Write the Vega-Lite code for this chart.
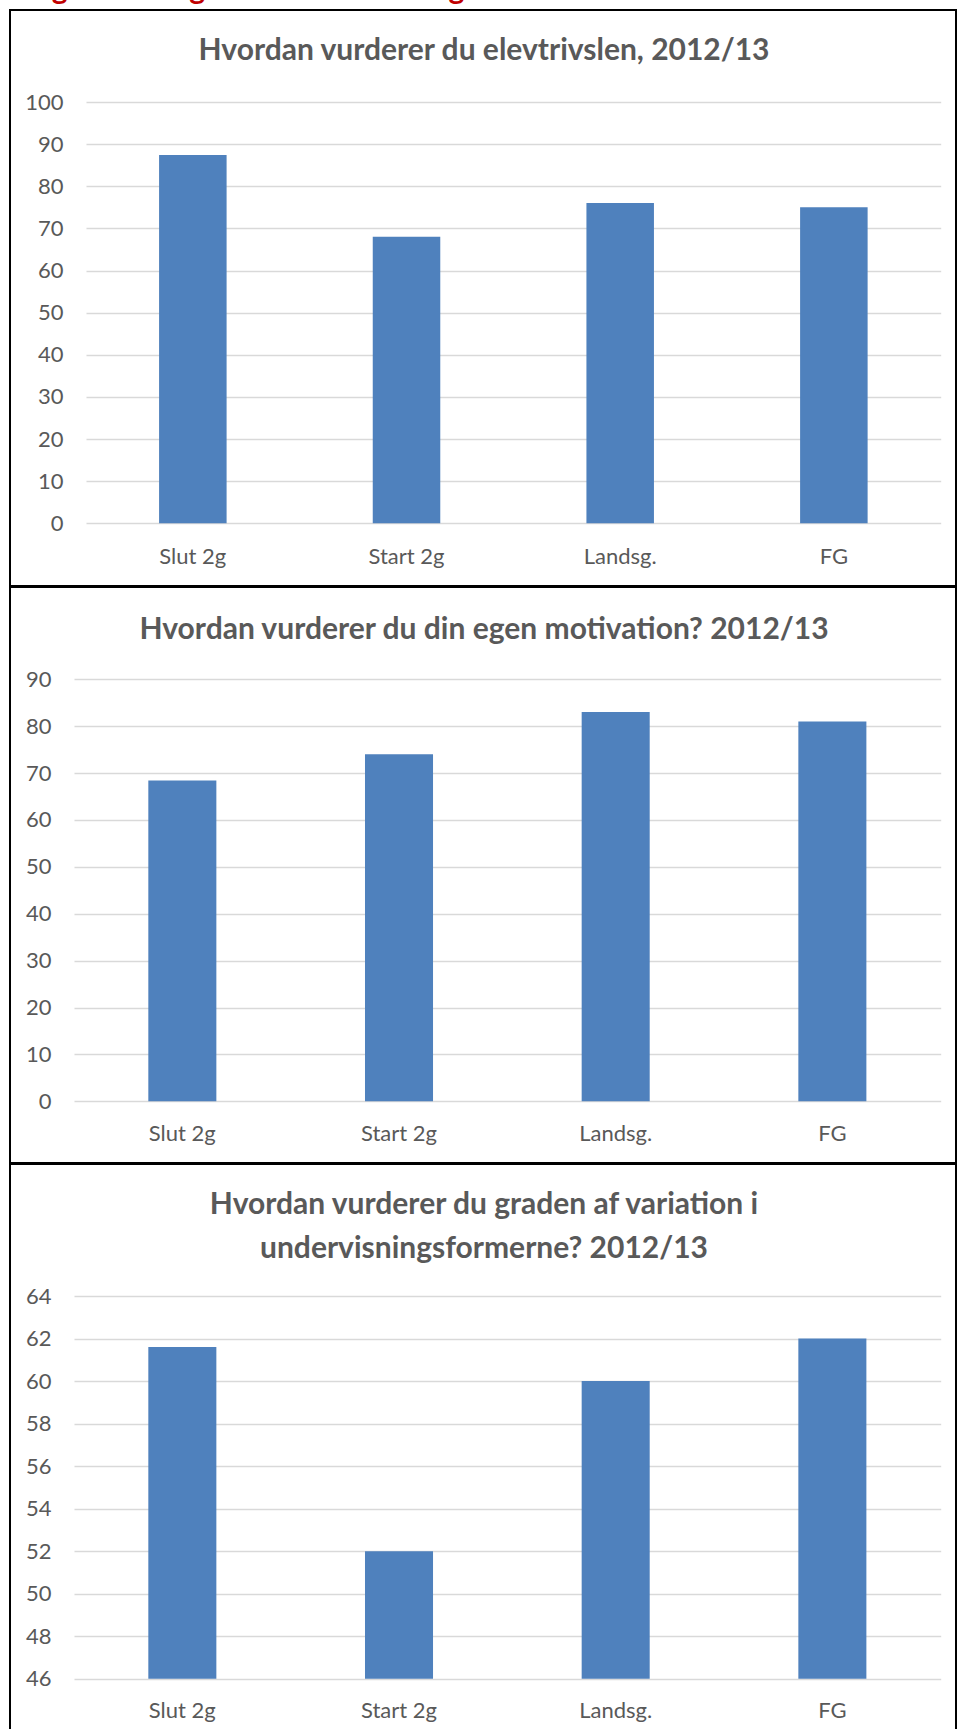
{
  "$schema": "https://vega.github.io/schema/vega-lite/v6.json",
  "padding": {"left": 2, "top": -25, "right": 0, "bottom": 0},
  "background": "white",
  "title": {"text": "Bilag 3: Uddrag af trivselsundersøgelse", "anchor": "start", "frame": "group", "font": "Lato", "fontSize": 30, "fontWeight": "bold", "color": "#c00000", "baseline": "alphabetic", "offset": -20, "dx": -8},
  "config": {
    "view": {"stroke": "black", "strokeWidth": 2, "fill": "white"},
    "concat": {"spacing": -2},
    "axis": {"labelFont": "Lato", "labelFontSize": 22, "labelColor": "#595959", "domain": false, "ticks": false, "tickSize": 0, "title": null, "gridColor": "#d9d9d9", "gridWidth": 1.5},
    "title": {"font": "Lato", "fontSize": 30, "fontWeight": "bold", "color": "#595959", "frame": "group", "anchor": "middle", "baseline": "alphabetic", "dx": 1}
  },
  "vconcat": [
    {
      "width": 946, "height": 576,
      "title": {"text": "Hvordan vurderer du elevtrivslen, 2012/13", "offset": -56},
      "data": {"values": [
        {"kategori": "Slut 2g", "vaerdi": 87.4},
        {"kategori": "Start 2g", "vaerdi": 68},
        {"kategori": "Landsg.", "vaerdi": 76},
        {"kategori": "FG", "vaerdi": 75}
      ]},
      "mark": {"type": "bar", "color": "#4f81bd"},
      "encoding": {
        "x": {"field": "kategori", "type": "nominal", "sort": null, "scale": {"range": [76, 930.7], "paddingInner": 0.684, "paddingOuter": 0.342}, "axis": {"labelAngle": 0, "offset": -30, "labelPadding": 0, "labelBaseline": "middle", "grid": false}},
        "y": {"field": "vaerdi", "type": "quantitative", "scale": {"domain": [0, 100], "range": [513.3, 92], "nice": false}, "axis": {"values": [0, 10, 20, 30, 40, 50, 60, 70, 80, 90, 100], "offset": -53, "labelPadding": 0, "grid": true}},
        "y2": {"datum": 0}
      }
    },
    {
      "width": 946, "height": 576,
      "title": {"text": "Hvordan vurderer du din egen motivation? 2012/13", "offset": -58},
      "data": {"values": [
        {"kategori": "Slut 2g", "vaerdi": 68.4},
        {"kategori": "Start 2g", "vaerdi": 74},
        {"kategori": "Landsg.", "vaerdi": 83},
        {"kategori": "FG", "vaerdi": 81}
      ]},
      "mark": {"type": "bar", "color": "#4f81bd"},
      "encoding": {
        "x": {"field": "kategori", "type": "nominal", "sort": null, "scale": {"range": [64, 930.7], "paddingInner": 0.686, "paddingOuter": 0.343}, "axis": {"labelAngle": 0, "offset": -29.3, "labelPadding": 0, "labelBaseline": "middle", "grid": false}},
        "y": {"field": "vaerdi", "type": "quantitative", "scale": {"domain": [0, 90], "range": [514.3, 92.3], "nice": false}, "axis": {"values": [0, 10, 20, 30, 40, 50, 60, 70, 80, 90], "offset": -41, "labelPadding": 0, "grid": true}},
        "y2": {"datum": 0}
      }
    },
    {
      "width": 946, "height": 580,
      "title": {"text": ["Hvordan vurderer du graden af variation i", "undervisningsformerne? 2012/13"], "offset": -100, "lineHeight": 44},
      "data": {"values": [
        {"kategori": "Slut 2g", "vaerdi": 61.6},
        {"kategori": "Start 2g", "vaerdi": 52},
        {"kategori": "Landsg.", "vaerdi": 60},
        {"kategori": "FG", "vaerdi": 62}
      ]},
      "mark": {"type": "bar", "color": "#4f81bd"},
      "encoding": {
        "x": {"field": "kategori", "type": "nominal", "sort": null, "scale": {"range": [64, 930.7], "paddingInner": 0.686, "paddingOuter": 0.343}, "axis": {"labelAngle": 0, "offset": -34, "labelPadding": 0, "labelBaseline": "middle", "grid": false}},
        "y": {"field": "vaerdi", "type": "quantitative", "scale": {"domain": [46, 64], "range": [514.7, 132], "nice": false, "zero": false}, "axis": {"values": [46, 48, 50, 52, 54, 56, 58, 60, 62, 64], "offset": -41, "labelPadding": 0, "grid": true}},
        "y2": {"datum": 46}
      }
    }
  ]
}
